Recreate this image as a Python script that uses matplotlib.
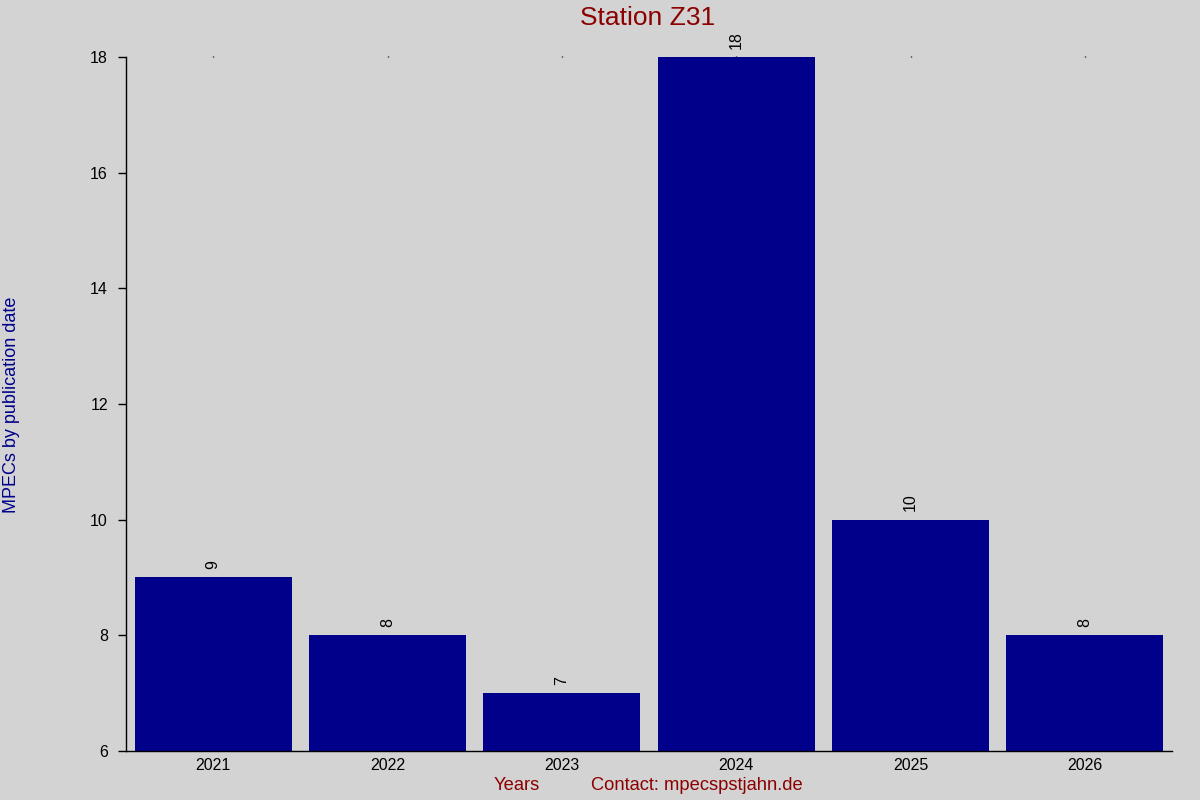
import matplotlib
matplotlib.use("Agg")
import matplotlib.pyplot as plt
import numpy as np

plt.rcParams["font.family"] = ["Liberation Sans", "DejaVu Sans"]

# ---- data -----------------------------------------------------------------
years = ["2021", "2022", "2023", "2024", "2025", "2026"]
mpec_counts = [9, 8, 7, 18, 10, 8]
y_ticks = [6, 8, 10, 12, 14, 16, 18]

bg = "#d3d3d3"
bar_color = "#00008b"
red = "#8b0000"

fig = plt.figure(figsize=(12, 8), dpi=100, facecolor=bg)
ax = fig.add_axes([0.105, 0.06125, 0.8717, 0.8675], facecolor=bg)

x = np.arange(len(years))
ax.bar(x, mpec_counts, width=0.9, color=bar_color, zorder=2)

# value labels above the bars
for xi, v in zip(x, mpec_counts):
    ax.annotate(str(v), (xi, v), xytext=(0, 6), textcoords="offset points",
                rotation=90, ha="center", va="bottom", fontsize=11.5,
                color="black")

ax.set_xlim(-0.5, len(years) - 0.5)
ax.set_ylim(6, 18)
ax.set_xticks(x)
ax.set_xticklabels(years)
ax.set_yticks(y_ticks)

for side in ("top", "right"):
    ax.spines[side].set_visible(False)
ax.spines["left"].set_linewidth(1.0)
ax.spines["bottom"].set_linewidth(1.0)

ax.tick_params(axis="x", bottom=False, top=True, length=1, width=1,
               labelsize=11.5, pad=4, labelbottom=True, labeltop=False)
ax.tick_params(axis="y", direction="out", length=6, width=1,
               labelsize=11.5, pad=7)

fig.text(0.54, 0.978, "Station Z31", ha="center", va="center",
         fontsize=19, color=red)
fig.text(0.0095, 0.4944, "MPECs by publication date", rotation=90,
         ha="center", va="center", fontsize=13, color=bar_color)
fig.text(0.431, 0.018, "Years", ha="center", va="center",
         fontsize=13.2, color=red)
fig.text(0.581, 0.018, "Contact: mpecspstjahn.de", ha="center", va="center",
         fontsize=13.2, color=red)

fig.savefig("out.png", dpi=100, facecolor=bg)
